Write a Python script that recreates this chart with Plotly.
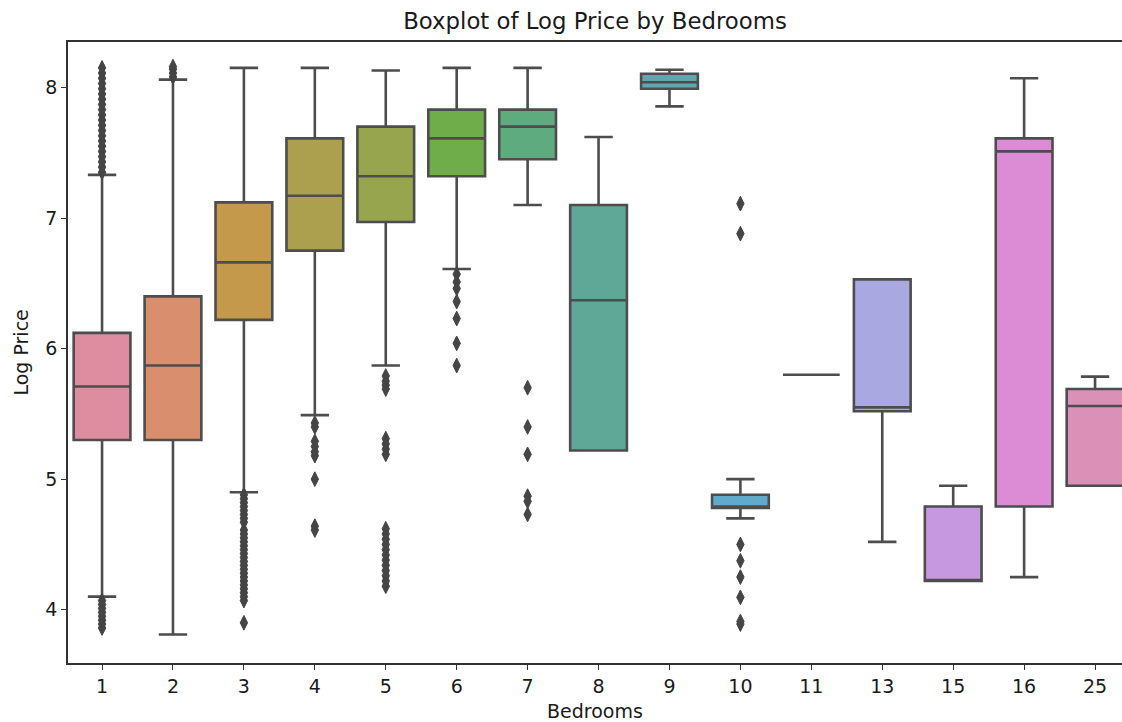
import plotly.graph_objects as go

# Box statistics of log price per bedroom count
bedrooms = ["1", "2", "3", "4", "5", "6", "7", "8", "9", "10", "11", "13", "15", "16", "25"]
q1 = [5.30, 5.30, 6.22, 6.75, 6.97, 7.32, 7.45, 5.22, 7.99, 4.78, 5.80, 5.52, 4.22, 4.79, 4.95]
median = [5.71, 5.87, 6.66, 7.17, 7.32, 7.61, 7.70, 6.37, 8.04, 4.79, 5.80, 5.55, 4.22, 7.51, 5.56]
q3 = [6.12, 6.40, 7.12, 7.61, 7.70, 7.83, 7.83, 7.10, 8.105, 4.88, 5.80, 6.53, 4.79, 7.61, 5.69]
lower_whisker = [4.10, 3.81, 4.90, 5.49, 5.87, 6.61, 7.10, 5.22, 7.855, 4.70, 5.80, 4.52, 4.22, 4.25, 4.95]
upper_whisker = [7.33, 8.06, 8.15, 8.15, 8.13, 8.15, 8.15, 7.62, 8.135, 5.00, 5.80, 6.53, 4.95, 8.07, 5.785]

# Outlying observations beyond the whiskers
outliers = {
    "1": [7.35, 7.39, 7.43, 7.47, 7.51, 7.55, 7.59, 7.63, 7.67, 7.71, 7.75, 7.79, 7.83,
          7.87, 7.91, 7.95, 7.99, 8.03, 8.07, 8.11, 8.15,
          3.86, 3.89, 3.92, 3.95, 3.98, 4.01, 4.04, 4.07],
    "2": [8.08, 8.11, 8.14, 8.16],
    "3": [4.88, 4.85, 4.82, 4.79, 4.76, 4.73, 4.70, 4.67, 4.61, 4.58, 4.55, 4.52, 4.49,
          4.46, 4.43, 4.40, 4.37, 4.34, 4.31, 4.28, 4.25, 4.22, 4.19, 4.16, 4.13, 4.10,
          4.07, 3.90],
    "4": [5.43, 5.40, 5.29, 5.25, 5.21, 5.18, 5.00, 4.64, 4.61],
    "5": [5.79, 5.75, 5.72, 5.69, 5.31, 5.27, 5.23, 5.19, 4.62, 4.58, 4.54, 4.50, 4.46,
          4.42, 4.38, 4.34, 4.30, 4.26, 4.22, 4.18],
    "6": [6.57, 6.51, 6.46, 6.36, 6.23, 6.04, 5.87],
    "7": [5.70, 5.40, 5.19, 4.87, 4.83, 4.73],
    "10": [7.11, 6.88, 4.50, 4.375, 4.25, 4.095, 3.91, 3.89],
}

fill_colors = ["#dd8d9f", "#d98f6d", "#c4994c", "#aca04f", "#97a54e", "#6fac4a",
               "#5dab7e", "#5fa897", "#5fa8b2", "#60aacb", "#7fa6de", "#aaa8e1",
               "#c598e0", "#db8cd5", "#db90b8"]
line_gray = "#4d4d4d"
text_color = "#1a1a1a"
font_family = "DejaVu Sans"
tick_size = 19
title_size = 22.8

fig = go.Figure()

for i, label in enumerate(bedrooms):
    fig.add_trace(go.Box(
        x=[i],
        q1=[q1[i]], median=[median[i]], q3=[q3[i]],
        lowerfence=[lower_whisker[i]], upperfence=[upper_whisker[i]],
        width=0.8,
        whiskerwidth=0.5,
        fillcolor=fill_colors[i],
        line=dict(color=line_gray, width=2.6),
        boxpoints=False,
        showlegend=False,
        hoverinfo="skip",
    ))

for i, label in enumerate(bedrooms):
    pts = outliers.get(label)
    if not pts:
        continue
    fig.add_trace(go.Scatter(
        x=[i] * len(pts),
        y=pts,
        mode="markers",
        marker=dict(symbol="diamond-tall", size=10.5, color="#454545",
                    line=dict(color="#454545", width=1)),
        showlegend=False,
        hoverinfo="skip",
    ))

fig.update_layout(
    width=1122,
    height=722,
    margin=dict(l=68, r=0, t=42, b=59),
    paper_bgcolor="white",
    plot_bgcolor="white",
    font=dict(family=font_family, size=tick_size, color=text_color),
    title=dict(
        text="Boxplot of Log Price by Bedrooms",
        x=0.5, xref="paper", xanchor="center",
        y=1 - 21 / 722, yref="container", yanchor="middle",
        font=dict(family=font_family, size=title_size, color=text_color),
    ),
    xaxis=dict(
        range=[-0.48, 14.38],
        tickmode="array",
        tickvals=list(range(len(bedrooms))),
        ticktext=bedrooms,
        tickfont=dict(size=tick_size),
        showgrid=False,
        zeroline=False,
        showline=True,
        linecolor="#333333",
        linewidth=1.6,
        mirror=True,
        ticks="outside",
        ticklen=5,
        tickwidth=1.4,
        tickcolor="#333333",
    ),
    yaxis=dict(
        range=[3.592, 8.348],
        tickmode="array",
        tickvals=[4, 5, 6, 7, 8],
        ticktext=["4", "5", "6", "7", "8"],
        tickfont=dict(size=tick_size),
        showgrid=False,
        zeroline=False,
        showline=True,
        linecolor="#333333",
        linewidth=1.6,
        ticks="outside",
        ticklen=5,
        tickwidth=1.4,
        tickcolor="#333333",
    ),
    annotations=[
        dict(text="Bedrooms", xref="paper", yref="paper", x=0.5, y=-0.0767,
             xanchor="center", yanchor="middle", showarrow=False,
             font=dict(family=font_family, size=tick_size, color=text_color)),
        dict(text="Log Price", xref="paper", yref="paper", x=-0.0455, y=0.5,
             xanchor="center", yanchor="middle", showarrow=False, textangle=-90,
             font=dict(family=font_family, size=tick_size, color=text_color)),
    ],
)

fig.write_html("out.html")
